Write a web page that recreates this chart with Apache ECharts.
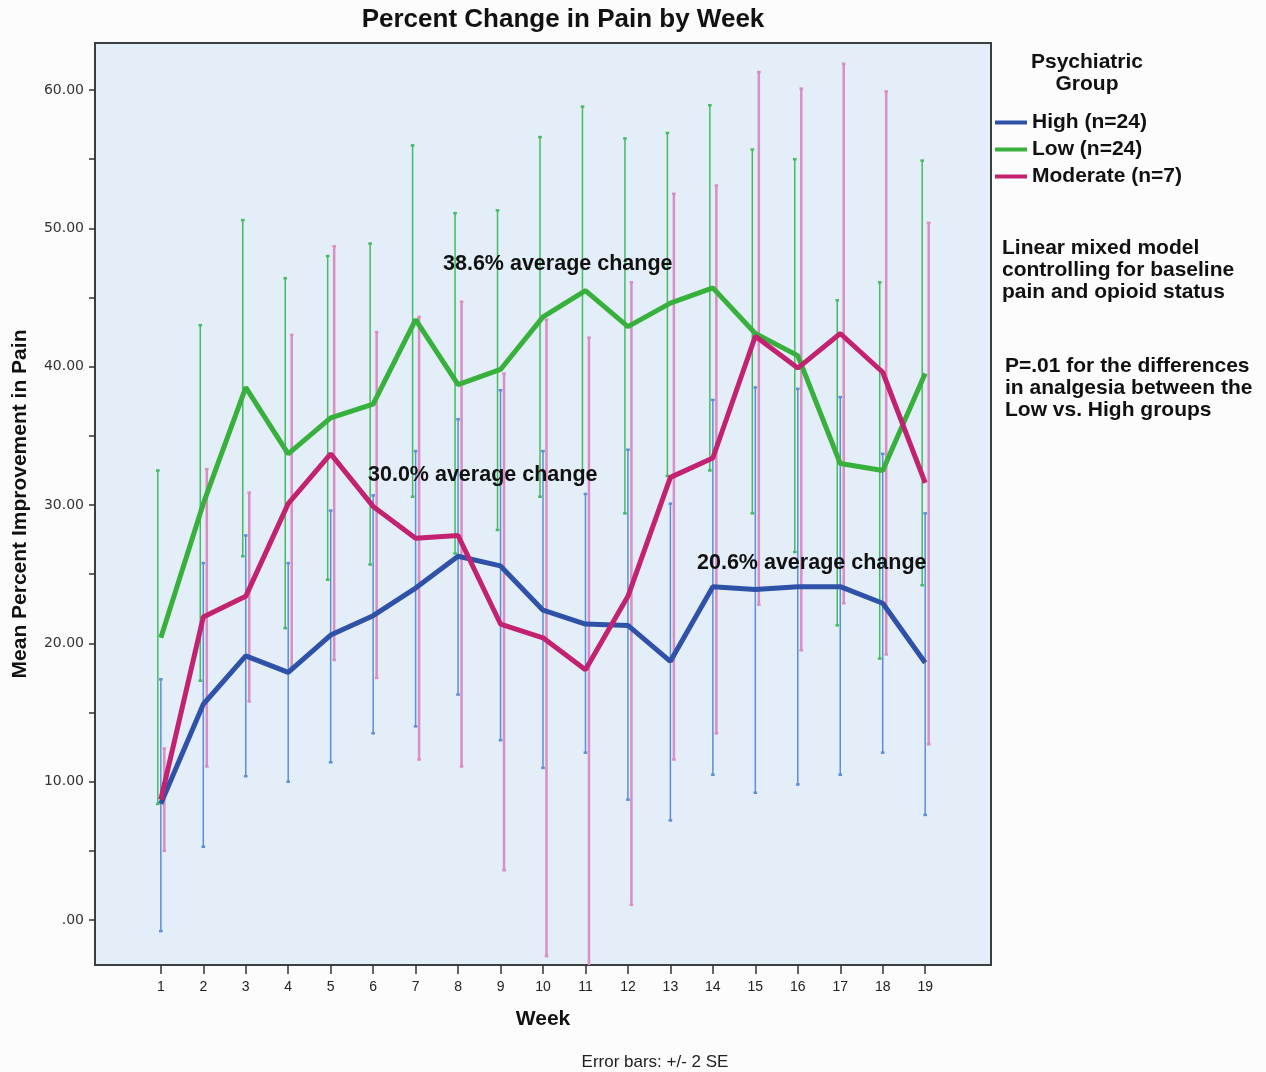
<!DOCTYPE html>
<html>
<head>
<meta charset="utf-8">
<script src="https://cdn.jsdelivr.net/npm/echarts@6/dist/echarts.min.js"></script>
<style>
html,body{margin:0;padding:0;background:#fcfcfd;}
#chart{width:1266px;height:1072px;}
</style>
</head>
<body>
<div id="chart"></div>
<script>
const weeks = [1,2,3,4,5,6,7,8,9,10,11,12,13,14,15,16,17,18,19];
const yTickLabels = [0,10,20,30,40,50,60];
const yTicks = [0,5,10,15,20,25,30,35,40,45,50,55,60];

const highMean  = [8.4, 15.6, 19.1, 17.9, 20.6, 22.0, 24.0, 26.3, 25.6, 22.4, 21.4, 21.3, 18.7, 24.1, 23.9, 24.1, 24.1, 22.9, 18.6];
const highLower = [-0.8, 5.3, 10.4, 10.0, 11.4, 13.5, 14.0, 16.3, 13.0, 11.0, 12.1, 8.7, 7.2, 10.5, 9.2, 9.8, 10.5, 12.1, 7.6];
const highUpper = [17.4, 25.8, 27.8, 25.8, 29.6, 30.7, 33.9, 36.2, 38.3, 33.9, 30.8, 34.0, 30.1, 37.6, 38.5, 38.4, 37.8, 33.7, 29.4];

const lowMean  = [20.4, 30.1, 38.5, 33.7, 36.3, 37.3, 43.4, 38.7, 39.8, 43.6, 45.5, 42.9, 44.6, 45.7, 42.4, 40.8, 33.0, 32.5, 39.5];
const lowLower = [8.4, 17.3, 26.3, 21.1, 24.6, 25.7, 30.6, 26.5, 28.2, 30.6, 32.5, 29.4, 32.1, 32.5, 29.4, 26.6, 21.3, 18.9, 24.2];
const lowUpper = [32.5, 43.0, 50.6, 46.4, 48.0, 48.9, 56.0, 51.1, 51.3, 56.6, 58.8, 56.5, 56.9, 58.9, 55.7, 55.0, 44.8, 46.1, 54.9];

const modMean  = [8.7, 21.9, 23.4, 30.1, 33.7, 29.9, 27.6, 27.8, 21.4, 20.4, 18.1, 23.4, 32.0, 33.4, 42.2, 39.9, 42.4, 39.6, 31.6];
const modLower = [5.0, 11.1, 15.8, 18.3, 18.8, 17.5, 11.6, 11.1, 3.6, -2.6, -5.9, 1.1, 11.6, 13.5, 22.8, 19.5, 22.9, 19.2, 12.7];
const modUpper = [12.4, 32.6, 30.9, 42.3, 48.7, 42.5, 43.6, 44.7, 39.5, 43.4, 42.1, 46.1, 52.5, 53.1, 61.3, 60.1, 61.9, 59.9, 50.4];

const seriesNames = ['High (n=24)', 'Low (n=24)', 'Moderate (n=7)'];

const Y_MIN = -3.25, Y_MAX = 63.4;
const X_MIN = -0.55, X_MAX = 20.55;
const FONT = "'Liberation Sans', Arial, sans-serif";

const chart = echarts.init(document.getElementById('chart'), null, {renderer: 'canvas'});

function errSeries(name, lower, upper, color, offset, width) {
  return {
    type: 'custom',
    name: name,
    z: 2,
    silent: true,
    data: weeks.map((w, i) => [w, lower[i], upper[i]]),
    encode: {x: 0, y: [1, 2]},
    renderItem: function (params, api) {
      const x = api.value(0);
      const loRaw = api.value(1), hiRaw = api.value(2);
      const lo = Math.max(loRaw, Y_MIN), hi = Math.min(hiRaw, Y_MAX);
      const p1 = api.coord([x, lo]);
      const p2 = api.coord([x, hi]);
      const px = p1[0] + offset;
      const children = [
        {type: 'line', shape: {x1: px, y1: p1[1], x2: px, y2: p2[1]}, style: {stroke: color, lineWidth: width}}
      ];
      if (loRaw >= Y_MIN) children.push({type: 'line', shape: {x1: px - 1.8, y1: p1[1], x2: px + 1.8, y2: p1[1]}, style: {stroke: color, lineWidth: 2.5}});
      if (hiRaw <= Y_MAX) children.push({type: 'line', shape: {x1: px - 1.8, y1: p2[1], x2: px + 1.8, y2: p2[1]}, style: {stroke: color, lineWidth: 2.5}});
      return {type: 'group', children: children};
    }
  };
}

function lineSeries(name, mean, color, z) {
  return {
    type: 'line',
    name: name,
    z: z,
    data: weeks.map((w, i) => [w, mean[i]]),
    showSymbol: false,
    symbol: 'none',
    lineStyle: {color: color, width: 5},
    itemStyle: {color: color},
    silent: true,
    animation: false
  };
}

const option = {
  backgroundColor: '#fcfcfd',
  animation: false,
  grid: {
    left: 95, top: 43, right: 275, bottom: 107,
    show: true, backgroundColor: '#e3eef8', borderColor: '#3a3f3f', borderWidth: 2
  },
  xAxis: {
    type: 'value', min: X_MIN, max: X_MAX,
    name: 'Week', nameLocation: 'middle', nameGap: 44,
    nameTextStyle: {fontFamily: FONT, fontSize: 21, fontWeight: 'bold', color: '#111'},
    axisLine: {show: true, onZero: false, lineStyle: {color: '#3a3f3f', width: 2}},
    axisTick: {show: true, length: 9, customValues: weeks, lineStyle: {color: '#333', width: 1.5}},
    axisLabel: {customValues: weeks, margin: 15, fontFamily: FONT, fontSize: 14, color: '#222'},
    splitLine: {show: false}
  },
  yAxis: {
    type: 'value', min: Y_MIN, max: Y_MAX,
    name: 'Mean Percent Improvement in Pain', nameLocation: 'middle', nameGap: 64,
    nameTextStyle: {fontFamily: FONT, fontSize: 21, fontWeight: 'bold', color: '#111'},
    axisLine: {show: true, onZero: false, lineStyle: {color: '#3a3f3f', width: 2}},
    axisTick: {show: true, length: 6, customValues: yTicks, lineStyle: {color: '#333', width: 1.5}},
    axisLabel: {
      customValues: yTickLabels, margin: 11, fontFamily: "'DejaVu Sans', sans-serif", fontSize: 14, color: '#333',
      formatter: v => v === 0 ? '.00' : v.toFixed(2)
    },
    splitLine: {show: false}
  },
  legend: {
    data: seriesNames,
    orient: 'vertical',
    left: 990, top: 107,
    icon: 'rect',
    itemWidth: 32, itemHeight: 4, itemGap: 6,
    textStyle: {fontFamily: FONT, fontSize: 21, fontWeight: 'bold', color: '#111', lineHeight: 20},
    selectedMode: false
  },
  graphic: [
    {type: 'text', x: 563, y: 7, silent: true,
      style: {text: 'Percent Change in Pain by Week', align: 'center', fontFamily: FONT, fontSize: 26, fontWeight: 'bold', fill: '#111'}},
    {type: 'text', x: 1087, y: 51, silent: true,
      style: {text: 'Psychiatric\nGroup', align: 'center', fontFamily: FONT, fontSize: 21, fontWeight: 'bold', fill: '#111', lineHeight: 22}},
    {type: 'text', x: 1002, y: 237, silent: true,
      style: {text: 'Linear mixed model\ncontrolling for baseline\npain and opioid status', fontFamily: FONT, fontSize: 21, fontWeight: 'bold', fill: '#111', lineHeight: 22}},
    {type: 'text', x: 1005, y: 355, silent: true,
      style: {text: 'P=.01 for the differences\nin analgesia between the\nLow vs. High groups', fontFamily: FONT, fontSize: 21, fontWeight: 'bold', fill: '#111', lineHeight: 22}},
    {type: 'text', x: 443, y: 253, z: 10, silent: true,
      style: {text: '38.6% average change', fontFamily: FONT, fontSize: 21.5, fontWeight: 'bold', fill: '#111'}},
    {type: 'text', x: 368, y: 464, z: 10, silent: true,
      style: {text: '30.0% average change', fontFamily: FONT, fontSize: 21.5, fontWeight: 'bold', fill: '#111'}},
    {type: 'text', x: 697, y: 552, z: 10, silent: true,
      style: {text: '20.6% average change', fontFamily: FONT, fontSize: 21.5, fontWeight: 'bold', fill: '#111'}},
    {type: 'text', x: 655, y: 1054, silent: true,
      style: {text: 'Error bars: +/- 2 SE', align: 'center', fontFamily: FONT, fontSize: 17, fill: '#222'}}
  ],
  series: [
    errSeries('errHigh', highLower, highUpper, '#5d8fd8', 0, 1.5),
    errSeries('errLow', lowLower, lowUpper, '#45bb62', -3, 1.5),
    errSeries('errMod', modLower, modUpper, '#da8ec3', 3.5, 2.5),
    lineSeries(seriesNames[0], highMean, '#2f52a8', 5),
    lineSeries(seriesNames[1], lowMean, '#38b03c', 6),
    lineSeries(seriesNames[2], modMean, '#c2226f', 7)
  ]
};
chart.setOption(option);
</script>
</body>
</html>
